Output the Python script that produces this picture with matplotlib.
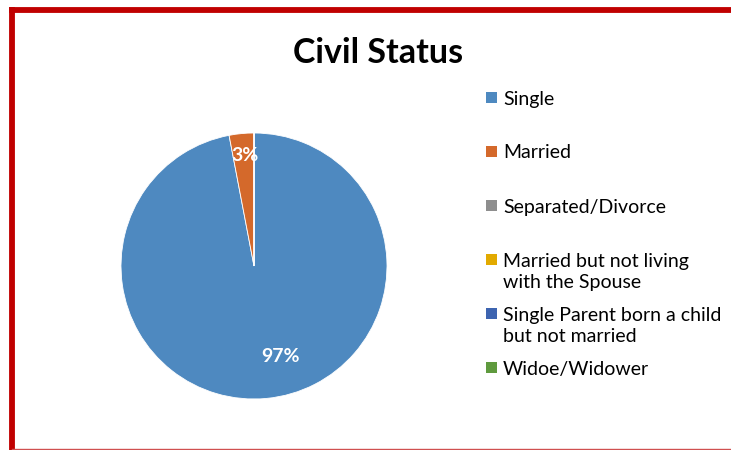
import matplotlib.pyplot as plt
from matplotlib.patches import Rectangle
from matplotlib.lines import Line2D

plt.rcParams['font.family'] = ['Lato', 'DejaVu Sans']

title = 'Civil Status'
labels = ['Single', 'Married', 'Separated/Divorce',
          'Married but not living\nwith the Spouse',
          'Single Parent born a child\nbut not married',
          'Widoe/Widower']
values = [97, 3, 0, 0, 0, 0]
colors = ['#4E89C0', '#D4692B', '#8E8E8E', '#E2AA00', '#3D64B0', '#5F9A3E']

fig = plt.figure(figsize=(7.31, 4.5), dpi=100)

# pie axes, centred around (254, 266) px with radius ~133 px
ax = fig.add_axes([121 / 731, (450 - 399) / 450, 266 / 731, 266 / 450])


def fmt(p):
    return '%d%%' % round(p) if p > 0.5 else ''


wedges, texts, autotexts = ax.pie(values, colors=colors, startangle=90,
                                  counterclock=False, autopct=fmt,
                                  pctdistance=0.8,
                                  wedgeprops=dict(edgecolor='white', linewidth=0.6),
                                  textprops=dict(color='white', fontsize=14,
                                                 fontweight='bold'))
ax.set_xlim(-1, 1)
ax.set_ylim(-1, 1)
ax.set_aspect('equal')
# nudge the two visible labels to where the original places them
autotexts[0].set_position((0.2, -0.68))
autotexts[1].set_position((-0.07, 0.83))

fig.text(378 / 731, 1 - 53 / 450, title, ha='center', va='center',
         fontsize=24.5, fontweight='bold')

# legend, one fixed slot per entry
y0 = 98
step = 54
for i, (lab, col) in enumerate(zip(labels, colors)):
    y = y0 + i * step
    fig.patches.append(Rectangle((486 / 731, 1 - (y + 5) / 450), 11 / 731, 11 / 450,
                                 facecolor=col, transform=fig.transFigure))
    fig.text(503 / 731, 1 - (y - 7.5) / 450, lab, ha='left', va='top',
             fontsize=14, linespacing=1.32)

# red frame on left and top, thin line at bottom
fig.add_artist(Line2D([12 / 731, 12 / 731], [0, 1 - 10 / 450], color='#C00000',
                      linewidth=4.2, solid_capstyle='projecting',
                      transform=fig.transFigure))
fig.add_artist(Line2D([12 / 731, 1], [1 - 10 / 450, 1 - 10 / 450], color='#C00000',
                      linewidth=4.2, solid_capstyle='projecting',
                      transform=fig.transFigure))
fig.add_artist(Line2D([12 / 731, 1], [1.5 / 450, 1.5 / 450], color='#D05050',
                      linewidth=1, transform=fig.transFigure))

fig.savefig('out.png', dpi=100)
